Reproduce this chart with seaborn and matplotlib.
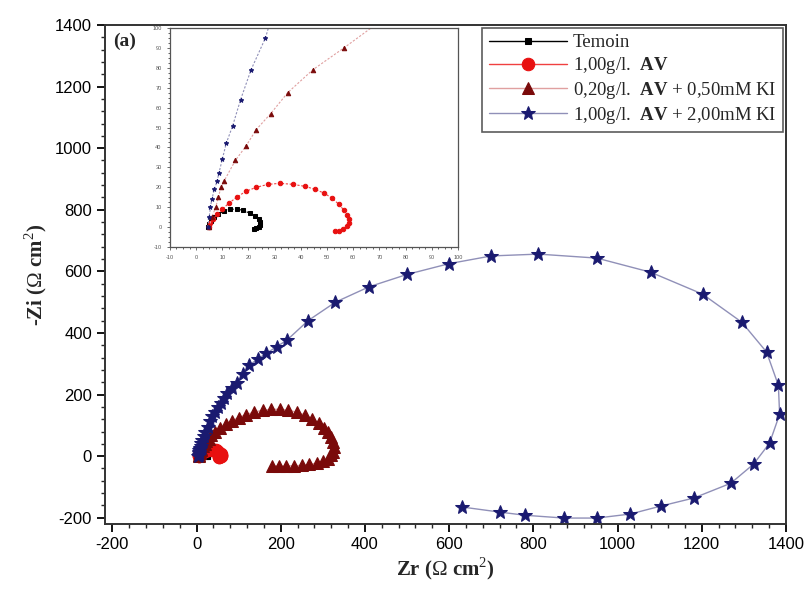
import numpy as np
import pandas as pd
import matplotlib
matplotlib.use("Agg")
import matplotlib.pyplot as plt
from matplotlib.ticker import MultipleLocator
import seaborn as sns

# Nyquist data (Zr, -Zi in ohm cm2)
temoin_zr = [4.6, 5.0, 5.8, 7.0, 8.5, 10.5, 13.0, 15.5, 18.0, 20.5, 22.5, 24.0, 24.6, 24.6, 24.0, 23.0, 22.0]
temoin_zi = [0.0, 1.5, 3.0, 5.0, 6.5, 8.0, 9.0, 9.0, 8.5, 7.0, 5.5, 4.0, 2.5, 1.0, 0.0, -0.5, -0.8]

av1_zr = [5.0, 5.5, 6.5, 8.0, 10.0, 12.5, 15.5, 19.0, 23.0, 27.5, 32.0, 37.0, 41.5, 45.5, 49.0,
          52.0, 54.5, 56.5, 57.8, 58.4, 58.3, 57.5, 56.0, 54.5, 53.0]
av1_zi = [0.0, 2.0, 4.0, 6.5, 9.0, 12.0, 15.0, 18.0, 20.0, 21.5, 22.0, 21.5, 20.5, 19.0, 17.0,
          14.5, 11.5, 8.5, 6.0, 4.0, 2.0, 0.5, -1.0, -1.8, -2.0]

av02_zr = [5.0, 6.0, 7.5, 8.5, 9.5, 10.8, 15.0, 19.0, 23.0, 28.5, 35.0, 44.6, 56.5, 70, 85, 100, 118, 137,
           157, 178, 198, 218, 238, 257, 275, 290, 303, 313, 320, 325, 327, 325, 320, 312, 300, 285,
           268, 250, 232, 213, 195, 180]
av02_zi = [0.0, 5.0, 10.0, 15.0, 20.0, 23.4, 33.5, 40.6, 49.0, 57.0, 67.5, 79.0, 90.0, 103, 115, 125, 135, 143,
           149, 152, 152, 149, 143, 134, 122, 108, 93, 78, 62, 46, 30, 15, 3, -8, -17, -23,
           -27, -30, -31, -32, -32, -31]

av1ki_zr = [4.5, 5.0, 5.5, 6.0, 7.0, 8.0, 8.7, 10.0, 11.5, 14.0, 17.0, 21.0, 26.5, 31, 37, 43, 50, 57, 65,
            73, 84, 95, 110, 125, 145, 166, 190, 215, 265, 330, 410, 500, 600, 700,
            812, 951, 1079, 1202, 1295, 1354, 1382, 1385,
            1361, 1323, 1269, 1181, 1103, 1030, 951, 873, 781, 722, 630]
av1ki_zi = [0.0, 5.0, 10.0, 14.0, 19.0, 23.0, 27.0, 34.0, 42.0, 51.0, 64.0, 79.0, 95.0, 115, 130, 143, 158, 172, 188,
            204, 220, 237, 266, 295, 315, 334, 355, 377, 440, 500, 550, 590, 625, 650,
            656, 643, 597, 526, 435, 338, 230, 136,
            42, -26, -88, -136, -162, -188, -201, -201, -192, -182, -165]

labels = ["Temoin",
          r"1,00g/l.  $\mathbf{AV}$",
          r"0,20g/l.  $\mathbf{AV}$ + 0,50mM KI",
          r"1,00g/l.  $\mathbf{AV}$ + 2,00mM KI"]

sns.set_style("ticks")
plt.rcParams["font.family"] = ["Liberation Sans", "DejaVu Sans"]
plt.rcParams["mathtext.fontset"] = "custom"
plt.rcParams["mathtext.rm"] = "Liberation Serif"
plt.rcParams["mathtext.bf"] = "Liberation Serif:bold"
plt.rcParams["axes.unicode_minus"] = False
plt.rcParams["axes.linewidth"] = 1.4

series = [
    (temoin_zr, temoin_zi, dict(color="black", marker="s", mfc="black", mec="black", ms=5, lw=1.0)),
    (av1_zr, av1_zi, dict(color="#f04040", marker="o", mfc="#e81010", mec="#e81010", ms=9, lw=1.0)),
    (av02_zr, av02_zi, dict(color="#e0a0a0", marker="^", mfc="#7a0a0a", mec="#7a0a0a", ms=8, lw=1.0)),
    (av1ki_zr, av1ki_zi, dict(color="#9090b8", marker="*", mfc="#1a1a70", mec="#1a1a70", ms=10, lw=1.0)),
]

fig = plt.figure(figsize=(8.09, 5.94), dpi=100)
ax = fig.add_axes([0.130, 0.118, 0.8415, 0.840])

for (zr, zi, kw), lab in zip(series, labels):
    df = pd.DataFrame({"Zr": zr, "Zi": zi})
    sns.lineplot(data=df, x="Zr", y="Zi", sort=False, estimator=None, ax=ax, label=lab, **kw)

ax.set_xlim(-217, 1400)
ax.set_ylim(-220, 1400)
ax.xaxis.set_major_locator(MultipleLocator(200))
ax.xaxis.set_minor_locator(MultipleLocator(40))
ax.yaxis.set_major_locator(MultipleLocator(200))
ax.yaxis.set_minor_locator(MultipleLocator(40))
ax.tick_params(which="major", direction="out", length=6, width=1.3, labelsize=12, colors="black")
ax.tick_params(which="minor", direction="out", length=3, width=1.0)
for s in ax.spines.values():
    s.set_visible(True)
    s.set_color("#333333")

ax.set_xlabel(r"Zr ($\Omega$ cm$^2$)", family="Liberation Serif", fontweight="bold", fontsize=15, labelpad=2)
ax.set_ylabel(r"-Zi ($\Omega$ cm$^2$)", family="Liberation Serif", fontweight="bold", fontsize=15, labelpad=4)
ax.text(0.012, 0.985, "(a)", transform=ax.transAxes, family="Liberation Serif", fontweight="bold",
        fontsize=14, va="top", ha="left")

leg = ax.legend(loc="upper right", bbox_to_anchor=(1.0, 1.0), frameon=True, fancybox=False,
                prop={"family": "Liberation Serif", "size": 13.5}, handlelength=4.2,
                borderpad=0.35, labelspacing=0.2, handletextpad=0.3, borderaxespad=0.15)
leg.get_frame().set_edgecolor("#333333")
leg.get_frame().set_linewidth(1.2)

# inset zoom on the high-frequency part
ins = fig.add_axes([0.210, 0.584, 0.356, 0.369])
for zr, zi, kw in series:
    df = pd.DataFrame({"Zr": zr, "Zi": zi})
    k = dict(kw)
    k["ms"] = 3.2
    k["lw"] = 0.8
    k["ls"] = (0, (2, 1.5))
    sns.lineplot(data=df, x="Zr", y="Zi", sort=False, estimator=None, ax=ins, **k)
ins.set_xlim(-10, 100)
ins.set_ylim(-10, 100)
ins.xaxis.set_major_locator(MultipleLocator(10))
ins.xaxis.set_minor_locator(MultipleLocator(2.5))
ins.yaxis.set_major_locator(MultipleLocator(10))
ins.yaxis.set_minor_locator(MultipleLocator(2.5))
ins.tick_params(which="major", direction="out", length=2.5, width=0.6, labelsize=4, colors="#555555")
ins.tick_params(which="minor", direction="out", length=1.2, width=0.5)
ins.set_xlabel("")
ins.set_ylabel("")
for s in ins.spines.values():
    s.set_visible(True)
    s.set_color("#555555")
    s.set_linewidth(0.9)

fig.savefig("out.png", dpi=100, facecolor="white")
